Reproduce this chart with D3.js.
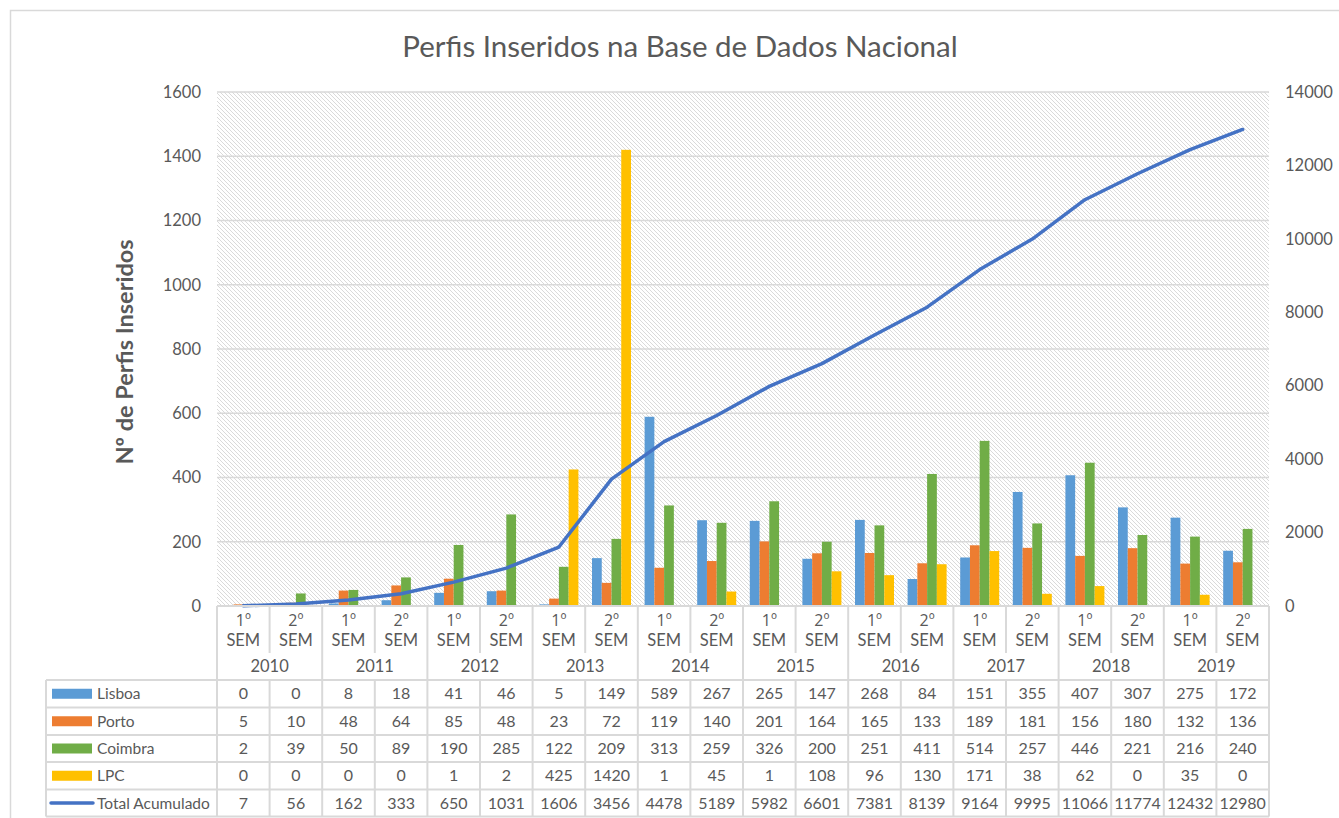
<!DOCTYPE html>
<html>
<head>
<meta charset="utf-8">
<script src="https://cdn.jsdelivr.net/npm/d3@7"></script>
<style>
  body { margin: 0; background: #fff; }
  svg text { font-family: Lato, "Open Sans", sans-serif; fill: #595959; }
</style>
</head>
<body>
<svg id="chart" width="1339" height="818"></svg>
<script>
const years = ["2010", "2011", "2012", "2013", "2014", "2015", "2016", "2017", "2018", "2019"];
const semesters = ["1º", "2º"];
const seriesNames = ["Lisboa", "Porto", "Coimbra", "LPC"];
const lisboa  = [0, 0, 8, 18, 41, 46, 5, 149, 589, 267, 265, 147, 268, 84, 151, 355, 407, 307, 275, 172];
const porto   = [5, 10, 48, 64, 85, 48, 23, 72, 119, 140, 201, 164, 165, 133, 189, 181, 156, 180, 132, 136];
const coimbra = [2, 39, 50, 89, 190, 285, 122, 209, 313, 259, 326, 200, 251, 411, 514, 257, 446, 221, 216, 240];
const lpc     = [0, 0, 0, 0, 1, 2, 425, 1420, 1, 45, 1, 108, 96, 130, 171, 38, 62, 0, 35, 0];
const total   = [7, 56, 162, 333, 650, 1031, 1606, 3456, 4478, 5189, 5982, 6601, 7381, 8139, 9164, 9995, 11066, 11774, 12432, 12980];
const leftTicks = [0, 200, 400, 600, 800, 1000, 1200, 1400, 1600];
const rightTicks = [0, 2000, 4000, 6000, 8000, 10000, 12000, 14000];

const colors = { Lisboa: "#5b9bd5", Porto: "#ed7d31", Coimbra: "#70ad47", LPC: "#ffc000" };
const lineColor = "#4472c4";
const gridColor = "#d9d9d9";

const seriesValues = { Lisboa: lisboa, Porto: porto, Coimbra: coimbra, LPC: lpc };
const cats = d3.range(years.length * 2);

const svg = d3.select("#chart");
const plotLeft = 217, plotRight = 1269, plotTop = 92, plotBottom = 606;

// hatched plot background
const defs = svg.append("defs");
const pat = defs.append("pattern")
  .attr("id", "hatch").attr("patternUnits", "userSpaceOnUse")
  .attr("width", 4).attr("height", 4);
pat.append("rect").attr("width", 4).attr("height", 4).attr("fill", "#fff");
pat.append("path").attr("d", "M-1,-1 L5,5 M-1,3 L1,5 M3,-1 L5,1")
  .attr("stroke", "#dadada").attr("stroke-width", 1);

// outer chart border
svg.append("rect").attr("x", 10.5).attr("y", 10.5).attr("width", 1340).attr("height", 820)
  .attr("fill", "none").attr("stroke", gridColor).attr("stroke-width", 1.5);

svg.append("rect").attr("x", plotLeft).attr("y", plotTop)
  .attr("width", plotRight - plotLeft).attr("height", plotBottom - plotTop)
  .attr("fill", "url(#hatch)");

const x0 = d3.scaleBand().domain(cats).range([plotLeft, plotRight]);
const x1 = d3.scaleBand().domain(seriesNames).range([6.8, x0.bandwidth() - 6.8]);
const yL = d3.scaleLinear().domain([0, 1600]).range([plotBottom, plotTop]);
const yR = d3.scaleLinear().domain([0, 14000]).range([plotBottom, plotTop]);

// gridlines
svg.append("g").selectAll("line").data(leftTicks.filter(d => d > 0)).join("line")
  .attr("x1", plotLeft).attr("x2", plotRight)
  .attr("y1", d => yL(d)).attr("y2", d => yL(d))
  .attr("stroke", gridColor).attr("stroke-width", 1.5);

// axes
const axL = svg.append("g").attr("transform", `translate(${plotLeft - 16},0)`)
  .call(d3.axisLeft(yL).tickValues(leftTicks).tickSize(0).tickPadding(0).tickFormat(d3.format("d")));
const axR = svg.append("g").attr("transform", `translate(${plotRight + 16},0)`)
  .call(d3.axisRight(yR).tickValues(rightTicks).tickSize(0).tickPadding(0).tickFormat(d3.format("d")));
[axL, axR].forEach(ax => {
  ax.select(".domain").remove();
  ax.selectAll("text").style("font-size", "16.5px").attr("fill", "#595959");
});

// bars
const groups = svg.append("g").selectAll("g").data(cats).join("g")
  .attr("transform", i => `translate(${x0(i)},0)`);
groups.selectAll("rect").data(i => seriesNames.map(s => ({ s, v: seriesValues[s][i] }))).join("rect")
  .attr("x", d => x1(d.s)).attr("width", x1.bandwidth())
  .attr("y", d => yL(d.v)).attr("height", d => plotBottom - yL(d.v))
  .attr("fill", d => colors[d.s]);

// cumulative line
svg.append("path").datum(cats)
  .attr("fill", "none").attr("stroke", lineColor).attr("stroke-width", 3.5)
  .attr("stroke-linejoin", "round").attr("stroke-linecap", "round")
  .attr("d", d3.line().x(i => x0(i) + x0.bandwidth() / 2).y(i => yR(total[i])));

// title
svg.append("text").attr("x", 680).attr("y", 57).attr("text-anchor", "middle")
  .style("font-size", "29.5px").text("Perfis Inseridos na Base de Dados Nacional");

// y axis title
svg.append("text").attr("transform", "translate(133,352) rotate(-90)").attr("text-anchor", "middle")
  .style("font-size", "23.5px").style("font-weight", "bold").text("Nº de Perfis Inseridos");

// data table
const tbl = svg.append("g");
const rowLines = [680, 707.5, 735, 762, 789.5, 816.5];
const tableLine = (xa, ya, xb, yb) => tbl.append("line")
  .attr("x1", xa).attr("y1", ya).attr("x2", xb).attr("y2", yb)
  .attr("stroke", gridColor).attr("stroke-width", 2);

tableLine(plotLeft, plotBottom, plotRight, plotBottom);
rowLines.forEach(y => tableLine(46, y, plotRight, y));
tableLine(46, 680, 46, 816.5);
cats.concat([cats.length]).forEach(i => {
  const x = i < cats.length ? x0(i) : plotRight;
  if (i % 2 === 0) tableLine(x, plotBottom, x, 816.5);
  else { tableLine(x, plotBottom, x, 653); tableLine(x, 680, x, 816.5); }
});

const cx = i => x0(i) + x0.bandwidth() / 2;
tbl.selectAll(".sem").data(cats).join("text")
  .attr("x", cx).attr("y", 626).attr("text-anchor", "middle").style("font-size", "16px")
  .style("font-family", "'Open Sans', sans-serif")
  .text(i => semesters[i % 2]);
tbl.selectAll(".sem2").data(cats).join("text")
  .attr("x", cx).attr("y", 646).attr("text-anchor", "middle").style("font-size", "16.5px")
  .text("SEM");
tbl.selectAll(".yr").data(years).join("text")
  .attr("x", (d, j) => x0(j * 2) + x0.bandwidth()).attr("y", 672).attr("text-anchor", "middle")
  .style("font-size", "16.5px").text(d => d);

const rows = seriesNames.map(s => ({ name: s, vals: seriesValues[s], color: colors[s], line: false }))
  .concat([{ name: "Total Acumulado", vals: total, color: lineColor, line: true }]);
rows.forEach((r, k) => {
  const yMid = (rowLines[k] + rowLines[k + 1]) / 2;
  if (r.line) {
    tbl.append("line").attr("x1", 51).attr("x2", 93).attr("y1", yMid).attr("y2", yMid)
      .attr("stroke", r.color).attr("stroke-width", 3.5).attr("stroke-linecap", "round");
  } else {
    tbl.append("rect").attr("x", 52).attr("y", yMid - 5).attr("width", 40).attr("height", 10).attr("fill", r.color);
  }
  tbl.append("text").attr("x", 97).attr("y", yMid + 5.5).style("font-size", "15.5px").text(r.name);
  tbl.append("g").selectAll("text").data(r.vals).join("text")
    .attr("x", (d, i) => cx(i)).attr("y", yMid + 5.5).attr("text-anchor", "middle")
    .style("font-size", "16px").text(d => d);
});
</script>
</body>
</html>
